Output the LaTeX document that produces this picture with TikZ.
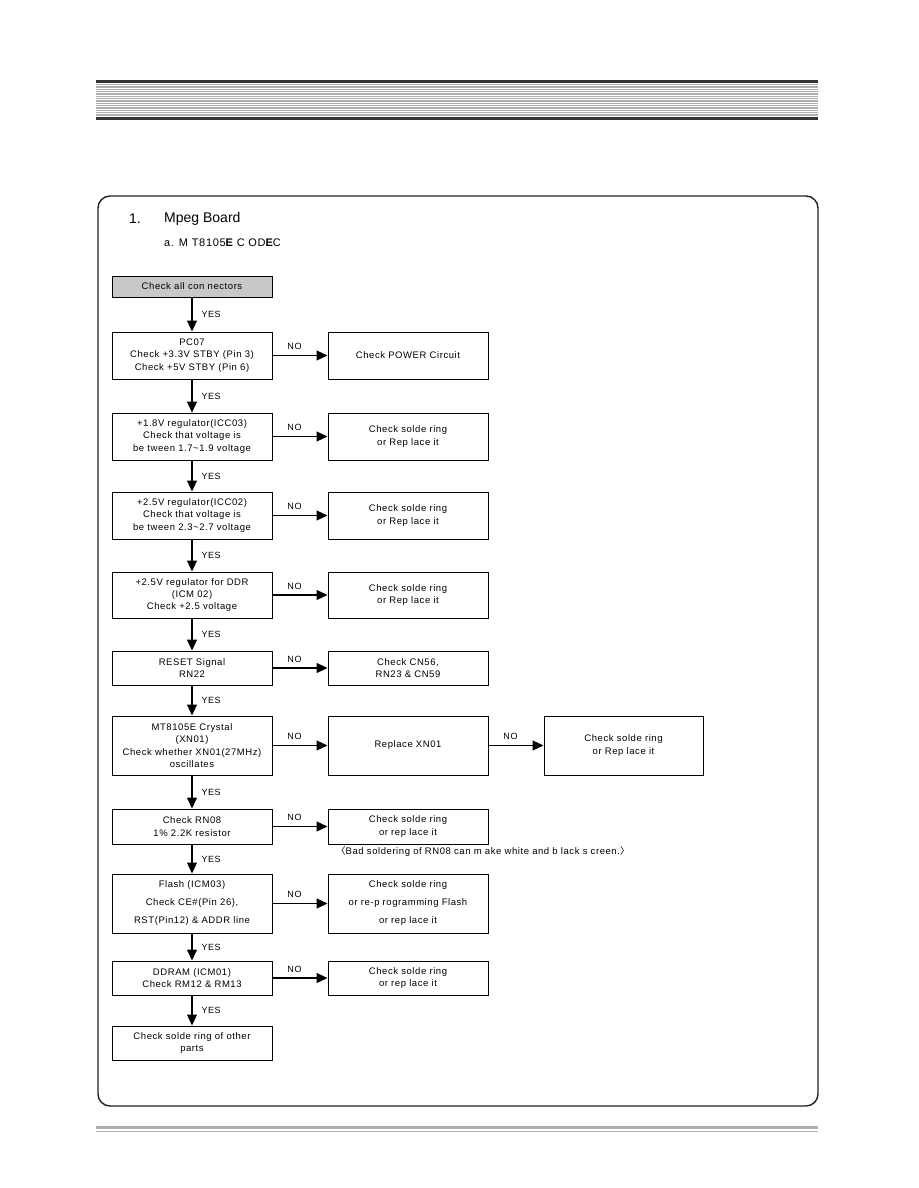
\documentclass[tikz,border=0pt]{standalone}
\usepackage{fontspec}
\setmainfont[LetterSpace=6]{Liberation Sans}
\newfontfamily\plainsans{Liberation Sans}
\newfontfamily\cjk{Noto Sans CJK KR}
\usetikzlibrary{arrows.meta}
\definecolor{boxgray}{RGB}{200,200,200}
\definecolor{hdark}{RGB}{51,51,51}
\definecolor{hgray}{RGB}{175,175,175}
\definecolor{fgray}{RGB}{176,176,176}
\definecolor{framecol}{RGB}{34,34,34}
\begin{document}
\begin{tikzpicture}[x=1pt,y=-1pt,
  box/.style={draw=black,line width=1pt,minimum width=160pt,inner sep=0pt,align=center,font=\fontsize{9.5}{12.3}\selectfont},
  arr/.style={line width=1.1pt,-{Triangle[length=11pt,width=10pt]}},
  lbl/.style={font=\fontsize{9}{10}\selectfont,inner sep=0pt},
  yes/.style={lbl,anchor=west,xshift=9pt},
  no/.style={lbl,above=5pt,pos=0.4}]
\useasboundingbox (0,0) rectangle (918,1188);
% header band
\fill[hdark] (96,80) rectangle (818,83.2);
\fill[hdark] (96,116.8) rectangle (818,120);
\foreach \i in {0,...,18} \draw[hgray,line width=0.7pt] (96,84.1+\i*1.76) -- (818,84.1+\i*1.76);
% footer
\fill[fgray] (96,1126) rectangle (818,1129);
\draw[fgray,line width=0.8pt] (96,1131.3) -- (818,1131.3);
% frame
\draw[framecol,line width=1.4pt,rounded corners=12pt] (98,196) rectangle (818,1106);
% titles
\node[anchor=west,inner sep=0pt,font=\plainsans\fontsize{14}{16}\selectfont] (t1) at (129,219) {1.};
\node[anchor=west,inner sep=0pt,font=\plainsans\fontsize{14}{16}\selectfont] (t2) at (164,219) {Mpeg Board};
\node[anchor=west,inner sep=0pt,font=\fontsize{11}{13}\selectfont] (t3) at (164,243) {a. M T8105{\bfseries E} C OD{\bfseries E}C};
% left column
\node[box,fill=boxgray,minimum height=21pt] (a) at (192,286.5) {Check all con nectors};
\node[box,minimum height=47pt] (b) at (192,355.5) {PC07\\Check +3.3V STBY (Pin 3)\\Check +5V STBY (Pin 6)};
\node[box,minimum height=47pt] (c) at (192,436.5) {+1.8V regulator(ICC03)\\Check that voltage is\\be tween 1.7\textasciitilde 1.9 voltage};
\node[box,minimum height=47pt] (d) at (192,515.5) {+2.5V regulator(ICC02)\\Check that voltage is\\be tween 2.3\textasciitilde 2.7 voltage};
\node[box,minimum height=46pt] (e) at (192,595) {+2.5V regulator for DDR\\(ICM 02)\\Check +2.5 voltage};
\node[box,minimum height=34pt] (f) at (192,668) {RESET Signal\\RN22};
\node[box,minimum height=59pt] (g) at (192,745.5) {MT8105E Crystal\\(XN01)\\Check whether XN01(27MHz)\\oscillates};
\node[box,minimum height=35pt] (h) at (192,826.5) {Check RN08\\1\% 2.2K resistor};
\node[box,minimum height=59pt,font=\fontsize{9.5}{18}\selectfont] (i) at (192,903.5) {Flash (ICM03)\\Check CE\#(Pin 26),\\RST(Pin12) \& ADDR line};
\node[box,minimum height=34pt] (j) at (192,978) {DDRAM (ICM01)\\Check RM12 \& RM13};
\node[box,minimum height=34pt] (k) at (192,1043) {Check solde ring of other\\parts};
% right column
\node[box,minimum height=47pt] (bn) at (408,355.5) {Check POWER Circuit};
\node[box,minimum height=47pt] (cn) at (408,436.5) {Check solde ring\\or Rep lace it};
\node[box,minimum height=47pt] (dn) at (408,515.5) {Check solde ring\\or Rep lace it};
\node[box,minimum height=46pt] (en) at (408,595) {Check solde ring\\or Rep lace it};
\node[box,minimum height=34pt] (fn) at (408,668) {Check CN56,\\RN23 \& CN59};
\node[box,minimum height=59pt] (gn) at (408,745.5) {Replace XN01};
\node[box,minimum height=59pt,minimum width=159pt] (gnn) at (623.5,745.5) {Check solde ring\\or Rep lace it};
\node[box,minimum height=35pt] (hn) at (408,826.5) {Check solde ring\\or rep lace it};
\node[box,minimum height=59pt,font=\fontsize{9.5}{18}\selectfont] (in) at (408,903.5) {Check solde ring\\or re-p rogramming Flash\\or rep lace it};
\node[box,minimum height=34pt] (jn) at (408,978) {Check solde ring\\or rep lace it};
\node[anchor=west,inner sep=0pt,font=\fontsize{9.5}{11}\selectfont] (note) at (336,851) {{\cjk 〈}Bad soldering of RN08 can m ake white and b lack s creen.{\cjk 〉}};
% YES arrows
\draw[arr] (a) -- node[yes]{YES} (b);
\draw[arr] (b) -- node[yes]{YES} (c);
\draw[arr] (c) -- node[yes]{YES} (d);
\draw[arr] (d) -- node[yes]{YES} (e);
\draw[arr] (e) -- node[yes]{YES} (f);
\draw[arr] (f) -- node[yes]{YES} (g);
\draw[arr] (g) -- node[yes]{YES} (h);
\draw[arr] (h) -- node[yes]{YES} (i);
\draw[arr] (i) -- node[yes]{YES} (j);
\draw[arr] (j) -- node[yes]{YES} (k);
% NO arrows
\draw[arr] (b) -- node[no]{NO} (bn);
\draw[arr] (c) -- node[no]{NO} (cn);
\draw[arr] (d) -- node[no]{NO} (dn);
\draw[arr] (e) -- node[no]{NO} (en);
\draw[arr] (f) -- node[no]{NO} (fn);
\draw[arr] (g) -- node[no]{NO} (gn);
\draw[arr] (gn) -- node[no]{NO} (gnn);
\draw[arr] (h) -- node[no]{NO} (hn);
\draw[arr] (i) -- node[no]{NO} (in);
\draw[arr] (j) -- node[no]{NO} (jn);
\end{tikzpicture}
\end{document}
